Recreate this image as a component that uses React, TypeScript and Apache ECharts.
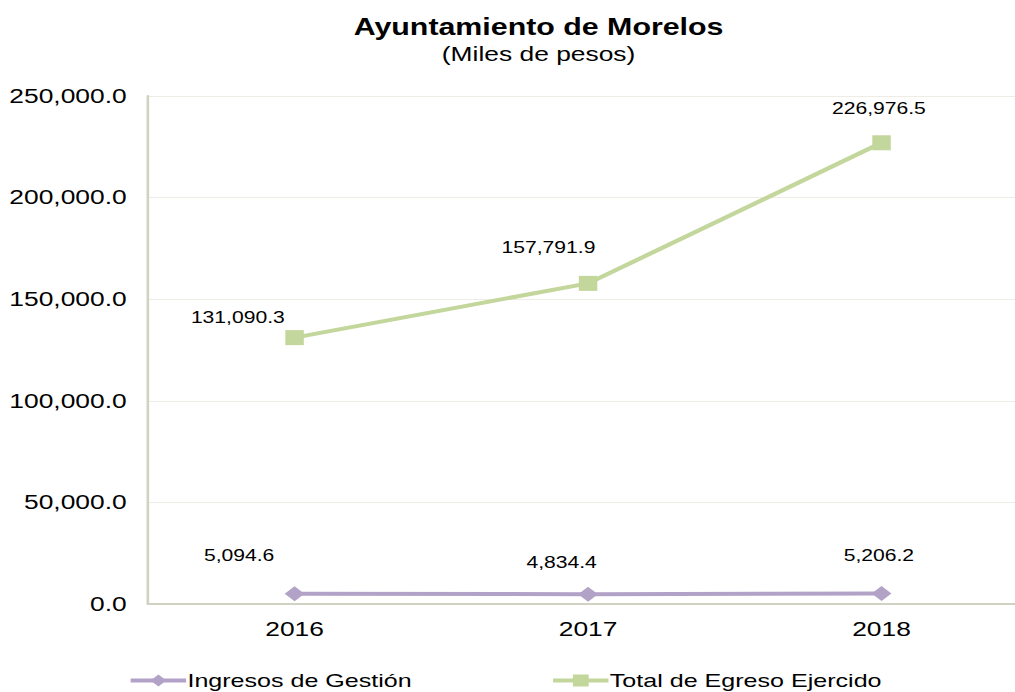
import React, { useEffect, useRef } from "react";
import * as echarts from "echarts";

const categories = ["2016", "2017", "2018"];
const ingresosGestion = [5094.6, 4834.4, 5206.2];
const totalEgreso = [131090.3, 157791.9, 226976.5];
const seriesNames = ["Ingresos de Gestión", "Total de Egreso Ejercido"];

const ingresosOffsets = [[-42, -38], [-20, -32], [-2, -38]];
const egresoOffsets = [[-43, -20], [-30, -36], [-2, -34]];

const SX = 1.32;

const fmt = (v: number) =>
  v.toLocaleString("en-US", { minimumFractionDigits: 1, maximumFractionDigits: 1 });

export default function App() {
  const ref = useRef<HTMLDivElement>(null);
  useEffect(() => {
    document.body.style.margin = "0";
    document.body.style.overflow = "hidden";
    const chart = echarts.init(ref.current!, null, { renderer: "svg" });
    const font = "Liberation Sans, Arial, sans-serif";
    const mkData = (vals: number[], offs: number[][]) =>
      vals.map((v, i) => ({
        value: v,
        label: { offset: offs[i] },
      }));
    const labelCfg = {
      show: true,
      position: "inside",
      fontSize: 16,
      color: "#000",
      fontFamily: font,
      formatter: (p: any) => fmt(p.value),
    };
    const legendText = { fontSize: 19, color: "#000", fontFamily: font, padding: [0, 0, 0, -4] };
    chart.setOption({
      animation: false,
      textStyle: { fontFamily: font },
      title: {
        text: "Ayuntamiento de Morelos",
        subtext: "(Miles de pesos)",
        left: 403,
        textAlign: "center",
        top: 11,
        itemGap: 5,
        textStyle: { fontSize: 23, fontWeight: "bold", color: "#000", fontFamily: font },
        subtextStyle: { fontSize: 20, color: "#000", fontFamily: font },
      },
      grid: { left: 112, top: 96, width: 667, height: 508, containLabel: false },
      legend: [
        {
          top: 671,
          left: 97,
          padding: 0,
          itemWidth: 42,
          itemHeight: 15,
          itemGap: 0,
          lineStyle: { width: 4 },
          textStyle: legendText,
          data: [seriesNames[0]],
        },
        {
          top: 671,
          left: 417,
          padding: 0,
          itemWidth: 42,
          itemHeight: 15,
          itemGap: 0,
          lineStyle: { width: 4 },
          textStyle: legendText,
          data: [seriesNames[1]],
        },
      ],
      xAxis: {
        type: "category",
        data: categories,
        boundaryGap: true,
        axisLine: { lineStyle: { color: "#d2d2c2", width: 2 } },
        axisTick: { show: false },
        axisLabel: { fontSize: 20, color: "#000", margin: 15, fontFamily: font },
      },
      yAxis: {
        type: "value",
        min: 0,
        max: 250000,
        interval: 50000,
        axisLine: { show: true, lineStyle: { color: "#d2d2c2", width: 2 } },
        axisTick: { show: false },
        splitLine: { lineStyle: { color: "#efece4", width: 1 } },
        axisLabel: {
          fontSize: 20,
          color: "#000",
          margin: 16,
          fontFamily: font,
          formatter: (v: number) => fmt(v),
        },
      },
      series: [
        {
          name: seriesNames[0],
          type: "line",
          data: mkData(ingresosGestion, ingresosOffsets),
          symbol: "diamond",
          symbolSize: [15, 15],
          lineStyle: { color: "#b3a2c7", width: 4 },
          itemStyle: { color: "#b3a2c7" },
          label: labelCfg,
        },
        {
          name: seriesNames[1],
          type: "line",
          data: mkData(totalEgreso, egresoOffsets),
          symbol: "rect",
          symbolSize: [14, 15],
          lineStyle: { color: "#c3d69b", width: 4 },
          itemStyle: { color: "#c3d69b" },
          label: labelCfg,
        },
      ],
    });
    return () => chart.dispose();
  }, []);
  return (
    <div style={{ width: 1015, height: 692, overflow: "hidden", position: "relative" }}>
      <div
        ref={ref}
        style={{
          width: 790,
          height: 692,
          transform: `scaleX(${SX})`,
          transformOrigin: "0 0",
        }}
      />
    </div>
  );
}
